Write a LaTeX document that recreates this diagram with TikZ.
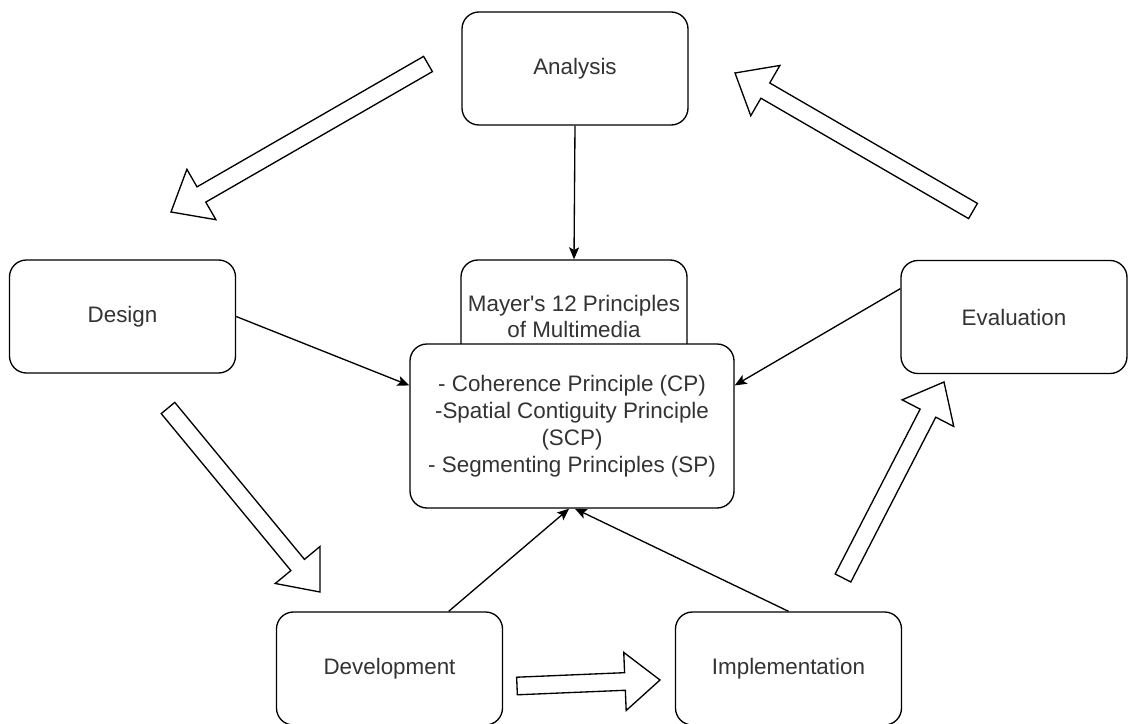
\documentclass[tikz,border=0pt]{standalone}
\usepackage{fontspec}
\setmainfont{Liberation Sans}
\usetikzlibrary{calc, arrows.meta}

\tikzset{
  phase/.style={rectangle, draw, rounded corners=12.7pt, line width=1pt, fill=white,
    minimum width=169.5pt, minimum height=84.75pt, align=center, text=black!80,
    font=\fontsize{16.8}{20.2}\selectfont},
  link/.style={-{Stealth[length=9pt, width=7.5pt, inset=2pt]}, line width=1pt},
  hollow/.style={draw, line width=1pt, fill=white, line join=miter}
}

% hollow block arrow from #1 (tail) to #2 (tip)
\newcommand{\hollowarrow}[2]{%
  \path ($(#2)!26.3pt!(#1)$) coordinate (neck);
  \draw[hollow] ($(#1)!6.6pt!90:(#2)$) -- ($(neck)!6.6pt!90:(#2)$)
    -- ($(neck)!21.8pt!90:(#2)$) -- (#2) -- ($(neck)!21.8pt!-90:(#2)$)
    -- ($(neck)!6.6pt!-90:(#2)$) -- ($(#1)!6.6pt!-90:(#2)$) -- cycle;
}

\begin{document}
\begin{tikzpicture}[x=0.75pt, y=-0.75pt]
  \useasboundingbox (0, 0) rectangle (1129, 724);

  \node (ana) [phase] at (575, 68.5) {Analysis};
  \node (des) [phase] at (122.5, 316.5) {Design};
  \node (eva) [phase] at (1014, 317) {Evaluation};
  \node (dev) [phase] at (389.5, 668.5) {Development};
  \node (imp) [phase] at (788.5, 668.5) {Implementation};
  \node (may) [phase] at (574, 316.5) {Mayer\textquotesingle s 12 Principles\\of Multimedia};
  \node (front) [phase, minimum width=243pt, minimum height=123pt] at (572, 426)
    {- Coherence Principle (CP)\\-Spatial Contiguity Principle\\(SCP)\\- Segmenting Principles (SP)};

  \draw[link] (ana.south) -- (may.north);
  \draw[link] (des.east) -- (front.166);
  \draw[link] (eva.166) -- (front.14);
  \draw[link] (dev.44) -- (front.-92);
  \draw[link] (imp.north) -- (front.-88);

  % cycle arrows
  \coordinate (anaTail) at (428, 64);   \coordinate (anaTip) at (171, 212);
  \coordinate (desTail) at (168, 408);  \coordinate (desTip) at (320, 592);
  \coordinate (devTail) at (517, 686);  \coordinate (devTip) at (660, 680);
  \coordinate (impTail) at (843, 578);  \coordinate (impTip) at (944, 382);
  \coordinate (evaTail) at (973, 211);  \coordinate (evaTip) at (735, 73);
  \hollowarrow{anaTail}{anaTip}
  \hollowarrow{desTail}{desTip}
  \hollowarrow{devTail}{devTip}
  \hollowarrow{impTail}{impTip}
  \hollowarrow{evaTail}{evaTip}
\end{tikzpicture}
\end{document}
